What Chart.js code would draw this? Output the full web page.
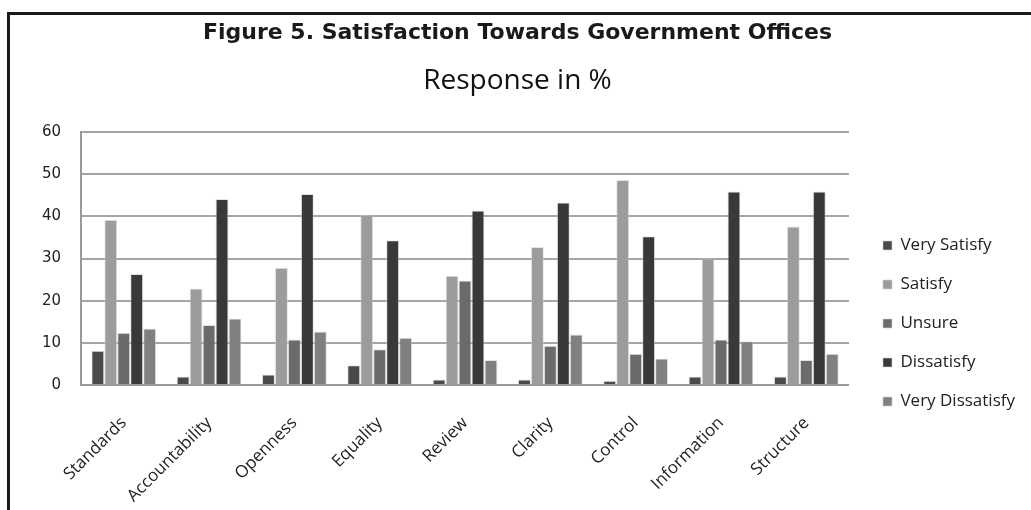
<!DOCTYPE html>
<html>
<head>
<meta charset="utf-8">
<script src="https://cdn.jsdelivr.net/npm/chart.js@4"></script>
<style>
  html, body { margin: 0; padding: 0; background: #fff; }
  #wrap { position: absolute; left: 0; top: 0; width: 1031px; height: 510px; }
  #frame { position: absolute; left: 7px; top: 12px; width: 1040px; height: 520px;
           border-left: 3px solid #1a1a1a; border-top: 3px solid #1a1a1a; pointer-events: none; }
</style>
</head>
<body>
<div id="wrap">
  <canvas id="c" width="1031" height="510"></canvas>
  <div id="frame"></div>
</div>
<script>
const categories = ["Standards", "Accountability", "Openness", "Equality", "Review", "Clarity", "Control", "Information", "Structure"];
const seriesNames = ["Very Satisfy", "Satisfy", "Unsure", "Dissatisfy", "Very Dissatisfy"];
const verySatisfy    = [8.1, 2.0, 2.5, 4.7, 1.3, 1.3, 1.0, 2.0, 2.0];
const satisfy        = [39.2, 22.9, 27.8, 40.4, 25.9, 32.7, 48.6, 30.0, 37.6];
const unsure         = [12.4, 14.2, 10.8, 8.5, 24.8, 9.3, 7.4, 10.8, 5.9];
const dissatisfy     = [26.3, 44.1, 45.3, 34.3, 41.4, 43.3, 35.3, 45.9, 45.9];
const veryDissatisfy = [13.4, 15.8, 12.7, 11.2, 5.9, 12.0, 6.3, 10.4, 7.4];
const yTicks = [0, 10, 20, 30, 40, 50, 60];

const colors = ["#4a4a4a", "#9c9c9c", "#6b6b6b", "#393939", "#808080"];
const seriesValues = [verySatisfy, satisfy, unsure, dissatisfy, veryDissatisfy];

const datasets = seriesNames.map((name, i) => ({
  label: name,
  data: seriesValues[i],
  backgroundColor: colors[i],
  borderColor: "rgba(210,210,210,0.6)",
  borderWidth: 1,
  barPercentage: 1.0,
  categoryPercentage: 0.76
}));

// nudge the legend block to where the original places it
const legendNudge = {
  id: "legendNudge",
  afterLayout(chart) {
    const lg = chart.legend;
    if (!lg) return;
    const dx = 12, dy = 60;
    lg.left += dx; lg.right += dx;
    lg.top += dy; lg.bottom += dy;
  }
};

new Chart(document.getElementById("c"), {
  type: "bar",
  data: { labels: categories, datasets },
  plugins: [legendNudge],
  options: {
    responsive: false,
    animation: false,
    devicePixelRatio: 1,
    layout: { padding: { left: 22, right: 18, top: 17, bottom: 0 } },
    plugins: {
      title: {
        display: true,
        text: "Figure 5. Satisfaction Towards Government Offices",
        color: "#1a1a1a",
        font: { family: "'DejaVu Sans', sans-serif", size: 22, weight: "bold" },
        padding: { top: 3, bottom: 8 }
      },
      subtitle: {
        display: true,
        text: "Response in %",
        color: "#111",
        font: { family: "'Open Sans', sans-serif", size: 28, weight: "normal" },
        padding: { top: 10, bottom: 34 }
      },
      legend: {
        position: "right",
        align: "center",
        labels: {
          color: "#222",
          boxWidth: 9,
          boxHeight: 9,
          padding: 22,
          font: { family: "'Open Sans', sans-serif", size: 17 }
        }
      },
      tooltip: { enabled: false }
    },
    scales: {
      x: {
        afterFit: (scale) => { scale.height = 125; },
        grid: { display: false, drawTicks: false },
        border: { display: true, color: "#9a9a9a", width: 2 },
        ticks: {
          color: "#222",
          minRotation: 45,
          maxRotation: 45,
          padding: 28,
          font: { family: "'Open Sans', sans-serif", size: 17 }
        }
      },
      y: {
        min: 0,
        max: 60,
        afterBuildTicks: (axis) => { axis.ticks = yTicks.map(v => ({ value: v })); },
        grid: { color: "#a5a5a5", lineWidth: 2, drawTicks: false },
        border: { display: true, color: "#9a9a9a", width: 2 },
        ticks: {
          color: "#222",
          padding: 20,
          font: { family: "'DejaVu Sans', sans-serif", size: 15 }
        }
      }
    }
  }
});
</script>
</body>
</html>
